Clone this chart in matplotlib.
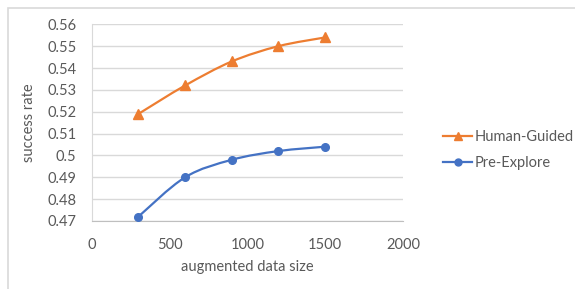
import numpy as np
import matplotlib
matplotlib.use("Agg")
import matplotlib.pyplot as plt
from matplotlib.path import Path
from matplotlib.patches import PathPatch, Rectangle
from matplotlib.lines import Line2D

# data
sizes = [300, 600, 900, 1200, 1500]
human_guided = [0.519, 0.532, 0.543, 0.550, 0.554]
pre_explore = [0.472, 0.490, 0.498, 0.502, 0.504]

x_ticks = [0, 500, 1000, 1500, 2000]
y_ticks = [0.47, 0.48, 0.49, 0.50, 0.51, 0.52, 0.53, 0.54, 0.55, 0.56]
y_tick_labels = ["0.47", "0.48", "0.49", "0.5", "0.51", "0.52", "0.53", "0.54", "0.55", "0.56"]

orange = "#ED7D31"
blue = "#4472C4"
text_col = "#595959"

plt.rcParams["font.family"] = ["Lato", "DejaVu Sans"]


def smooth_path(xs, ys):
    # Excel-like smoothed line: Catmull-Rom turned into cubic Bezier segments
    xs = np.asarray(xs, float)
    ys = np.asarray(ys, float)
    n = len(xs)
    verts = [(xs[0], ys[0])]
    codes = [Path.MOVETO]
    for i in range(n - 1):
        i0 = max(i - 1, 0)
        i3 = min(i + 2, n - 1)
        c1 = (xs[i] + (xs[i + 1] - xs[i0]) / 6, ys[i] + (ys[i + 1] - ys[i0]) / 6)
        c2 = (xs[i + 1] - (xs[i3] - xs[i]) / 6, ys[i + 1] - (ys[i3] - ys[i]) / 6)
        verts += [c1, c2, (xs[i + 1], ys[i + 1])]
        codes += [Path.CURVE4] * 3
    return Path(verts, codes)


fig = plt.figure(figsize=(5.75, 2.89), dpi=100)
ax = fig.add_axes([0.1595, 0.2353, 0.5414, 0.6806])

# outer chart border
fig.patches.append(Rectangle((8 / 575, -0.1), 1.1, 1 - 8 / 289 + 0.1,
                             transform=fig.transFigure, fill=False,
                             edgecolor="#d9d9d9", lw=1.2))

for xs, ys, col, mk, ms in [(sizes, human_guided, orange, "^", 6.5),
                            (sizes, pre_explore, blue, "o", 5.5)]:
    ax.add_patch(PathPatch(smooth_path(xs, ys), fill=False, edgecolor=col, lw=1.6, zorder=3))
    ax.plot(xs, ys, linestyle="none", marker=mk, markersize=ms, color=col, zorder=4)

ax.set_xlim(0, 2000)
ax.set_ylim(0.47, 0.56)
ax.set_xticks(x_ticks)
ax.set_yticks(y_ticks)
ax.set_yticklabels(y_tick_labels)
ax.grid(axis="y", color="#d9d9d9", lw=1)
ax.set_axisbelow(True)

for s in ["top", "right"]:
    ax.spines[s].set_visible(False)
ax.spines["left"].set_color("#d9d9d9")
ax.spines["bottom"].set_color("#bfbfbf")
ax.tick_params(length=0, labelsize=10.5, colors=text_col)
ax.tick_params(axis="y", pad=11)
ax.tick_params(axis="x", pad=12)

ax.set_xlabel("augmented data size", fontsize=10.5, color=text_col, labelpad=6)
ax.set_ylabel("success rate", fontsize=10.5, color=text_col, labelpad=8)

handles = [Line2D([], [], color=orange, marker="^", markersize=5.5, lw=1.6),
           Line2D([], [], color=blue, marker="o", markersize=5, lw=1.6)]
fig.legend(handles, ["Human-Guided", "Pre-Explore"], loc="center left",
           bbox_to_anchor=(0.748, 0.48), frameon=False, fontsize=10.5,
           labelcolor=text_col, handlelength=2.0, handletextpad=0.15,
           labelspacing=0.8)

fig.savefig("out.png", dpi=100)
